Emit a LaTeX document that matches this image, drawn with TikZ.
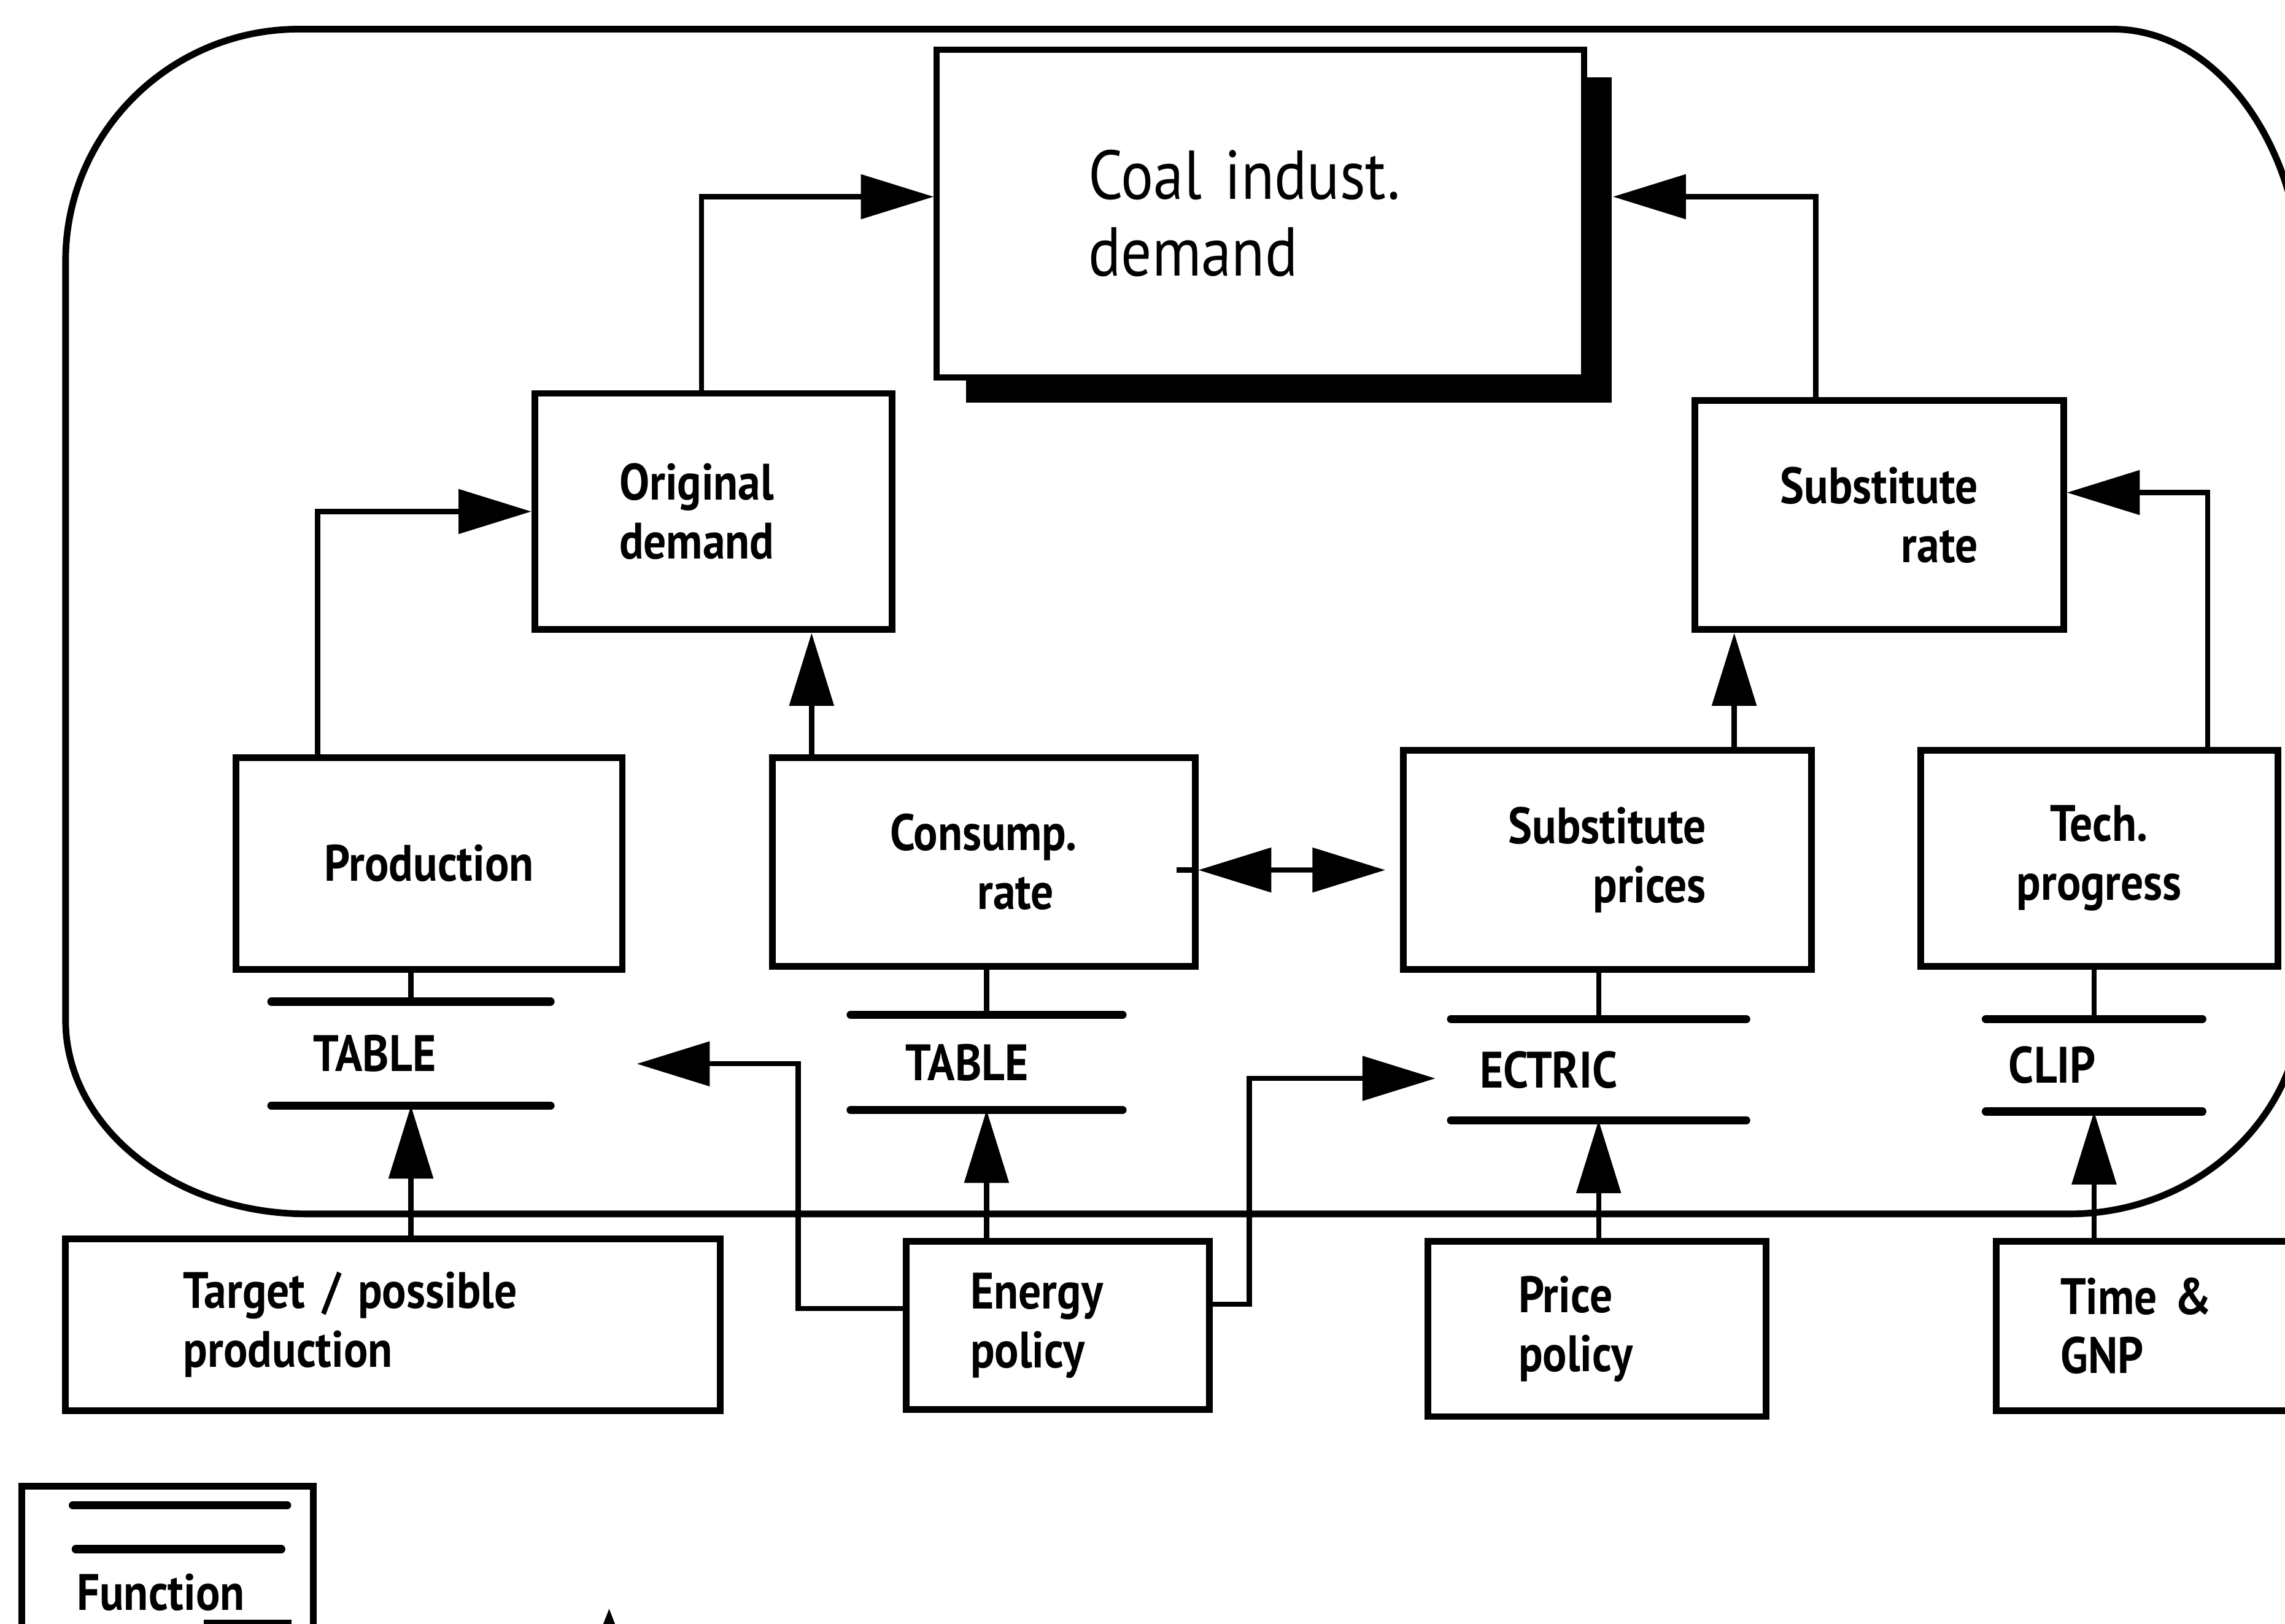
\documentclass[tikz,border=0pt]{standalone}
\usepackage{fontspec}
\setmainfont{PT Sans}[FakeStretch=0.88]
\usetikzlibrary{arrows.meta}
\newcommand{\boxfont}{\fontsize{10}{11.5}\selectfont\bfseries}
\tikzset{
  box/.style={draw,line width=1.3pt,inner sep=0pt,font=\boxfont},
  fn/.style={inner ysep=0pt,font=\boxfont,align=left},
  fnline/.style={line width=1.6pt,line cap=round},
  arr/.style={line width=1pt,-{Triangle[length=0.5cm,width=0.3cm]}},
  dbl/.style={line width=1pt,{Triangle[length=0.5cm,width=0.3cm]}-{Triangle[length=0.5cm,width=0.3cm]}},
  thin/.style={line width=1pt}
}
\begin{document}
\begin{tikzpicture}[x=0.01cm,y=-0.01cm]
  \useasboundingbox (0,0) rectangle (1568,1114);
  % outer frame
  \draw[line width=1.3pt] (45,179) .. controls (45,91) and (117,20) .. (205,20) -- (1450,20)
    .. controls (1522,20) and (1580,101) .. (1580,200) -- (1580,683)
    .. controls (1580,766) and (1508,833) .. (1420,833) -- (211,833)
    .. controls (119,833) and (45,773) .. (45,700) -- cycle;
  % top box with shadow
  \node[fill=black,minimum width=4.43cm,minimum height=2.23cm] (coalsh) at (884.5,164.5) {};
  \node[draw,fill=white,line width=1.2pt,minimum width=4.44cm,minimum height=2.25cm,align=left,
    inner xsep=1.04cm,text width=2.36cm,font=\fontsize{13.5}{15}\selectfont] (coal) at (865,146.5) {Coal indust.\\demand};
  % middle boxes
  \node[box,minimum width=2.45cm,minimum height=1.62cm,align=left,inner xsep=0.58cm,text width=1.29cm] (orig) at (489.5,351) {Original\\demand};
  \node[box,minimum width=2.53cm,minimum height=1.57cm,align=right] (subrate) at (1289.5,353.5) {Substitute\\rate};
  \node[box,minimum width=2.65cm,minimum height=1.45cm] (prod) at (294.5,592.5) {Production};
  \node[box,minimum width=2.90cm,minimum height=1.43cm,align=left] (cons) at (675,591.5) {Consump.\\\hspace*{1.7em}rate};
  \node[box,minimum width=2.80cm,minimum height=1.50cm,align=right] (subprice) at (1103,590) {Substitute\\prices};
  \node[box,minimum width=2.45cm,minimum height=1.48cm,align=center] (tech) at (1440.5,589) {Tech.\\progress};
  % function blocks
  \node[fn,minimum width=1.90cm,minimum height=0.70cm,inner xsep=0.28cm,text width=1.34cm] (f1) at (282,723) {TABLE};
  \node[fn,minimum width=1.85cm,minimum height=0.64cm,inner xsep=0.37cm,text width=1.11cm] (f2) at (677,729) {TABLE};
  \node[fn,minimum width=2.01cm,minimum height=0.68cm,inner xsep=0.19cm,text width=1.63cm] (f3) at (1097,734) {ECTRIC};
  \node[fn,minimum width=1.47cm,minimum height=0.62cm,inner xsep=0.15cm,text width=1.17cm] (f4) at (1437,731) {CLIP};
  \foreach \f in {f1,f2,f3,f4}{
    \draw[fnline] (\f.north west) -- (\f.north east);
    \draw[fnline] (\f.south west) -- (\f.south east);
  }
  % bottom boxes
  \node[box,minimum width=4.49cm,minimum height=1.18cm,inner xsep=0.81cm,text width=2.87cm,align=left] (target) at (269.5,909) {Target / possible\\production};
  \node[box,minimum width=2.08cm,minimum height=1.15cm,inner xsep=0.44cm,text width=1.20cm,align=left] (energy) at (726,909.5) {Energy\\policy};
  \node[box,minimum width=2.32cm,minimum height=1.20cm,inner xsep=0.62cm,text width=1.08cm,align=left] (pricepol) at (1096,912) {Price\\policy};
  \node[box,minimum width=2.30cm,minimum height=1.16cm,inner xsep=0.44cm,text width=1.42cm,align=left] (timegnp) at (1485,910) {Time \&\\GNP};
  % connectors
  \draw[arr] ([xshift=-0.765cm]prod.north) |- (orig.west);
  \draw[arr] ([xshift=-1.18cm]cons.north) -- ([xshift=-1.18cm]cons.north |- orig.south);
  \draw[arr] ([xshift=-0.08cm]orig.north) |- ([yshift=0.115cm]coal.west);
  \draw[arr] ([xshift=0.87cm]subprice.north) -- ([xshift=0.87cm]subprice.north |- subrate.south);
  \draw[arr] ([xshift=0.745cm]tech.north) |- ([yshift=0.155cm]subrate.east);
  \draw[arr] ([xshift=-0.435cm]subrate.north) |- ([yshift=0.295cm]coalsh.east);
  \draw[dbl] ([yshift=-0.055cm]cons.east) -- ([xshift=-0.1cm,yshift=-0.07cm]subprice.west);
  \draw[thin] ([yshift=-0.055cm]cons.east) -- ++(-15,0);
  \draw[thin] (f1.north) -- (f1.north |- prod.south);
  \draw[thin] (f2.north) -- (f2.north |- cons.south);
  \draw[thin] (f3.north) -- (f3.north |- subprice.south);
  \draw[thin] (f4.north) -- (f4.north |- tech.south);
  \draw[arr] (f1.south |- target.north) -- (f1.south);
  \draw[arr] (f2.south |- energy.north) -- (f2.south);
  \draw[arr] (f3.south |- pricepol.north) -- (f3.south);
  \draw[arr] (f4.south |- timegnp.north) -- (f4.south);
  \coordinate (tipL) at (437,730);
  \coordinate (tipR) at (985,740);
  \draw[arr] ([yshift=0.115cm]energy.west) -- ++(-72,0) |- (tipL);
  \draw[arr] ([yshift=0.145cm]energy.east) -- ++(25,0) |- (tipR);
  % legend
  \node[box,minimum width=2cm,minimum height=1.3cm] (legend) at (115,1085) {};
  \draw[fnline] (50,1033) -- (197,1033);
  \draw[fnline] (52,1063) -- (193,1063);
  \node[font=\boxfont,anchor=base west,inner sep=0pt] (legtxt) at (52,1105) {Function};
  \draw[thin] (140,1113) -- (200,1113);
  \fill (418,1104) -- (411,1122) -- (425,1122) -- cycle;
\end{tikzpicture}
\end{document}
